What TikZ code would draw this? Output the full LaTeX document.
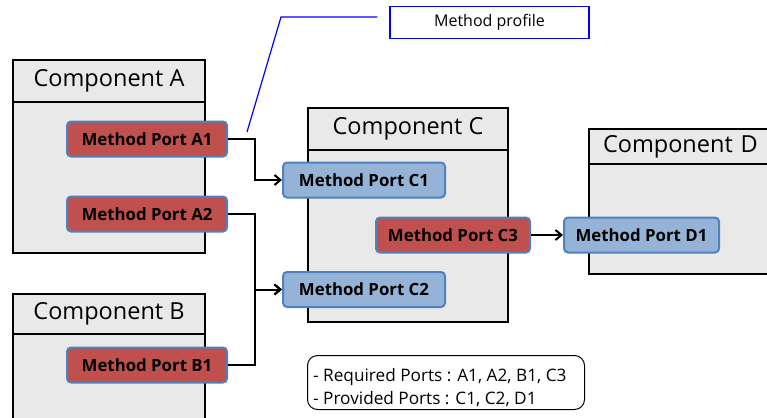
\documentclass[tikz,border=0pt]{standalone}
\usepackage{fontspec}
\setmainfont{Open Sans}
\usetikzlibrary{arrows.meta}

\definecolor{reqfill}{HTML}{C0504D}
\definecolor{provfill}{HTML}{95B3D7}
\definecolor{portedge}{HTML}{4F81BD}
\definecolor{compfill}{HTML}{E9E9E9}
\definecolor{leader}{HTML}{0000FF}

\tikzset{
  compbody/.style={draw=black, line width=2pt, fill=compfill, anchor=north west, inner sep=0pt},
  comphead/.style={draw=black, line width=2pt, fill=compfill, anchor=north west, inner sep=0pt,
    font=\fontsize{23.5}{26}\selectfont},
  port/.style={draw=portedge, line width=2pt, rounded corners=4pt, inner sep=0pt,
    minimum width=160pt, minimum height=35pt, font=\fontsize{16.8}{18}\selectfont\bfseries},
  reqport/.style={port, fill=reqfill},
  provport/.style={port, fill=provfill},
  conn/.style={draw=black, line width=2pt, -{Straight Barb[length=6pt, width=10pt, line width=2pt]}},
  profile/.style={draw=leader, line width=1.2pt, inner sep=0pt, minimum width=199pt, minimum height=32pt,
    font=\fontsize{16}{18}\selectfont},
  note/.style={draw=black, line width=1pt, rounded corners=10pt, inner sep=0pt, anchor=north west,
    minimum width=277pt, minimum height=54pt},
  notetext/.style={anchor=west, inner sep=0pt, align=left, font=\fontsize{17.2}{23}\selectfont}
}

\begin{document}
\begin{tikzpicture}[x=1pt, y=-1pt]
\useasboundingbox (0,0) rectangle (767,417);
\clip (0,0) rectangle (767,417);

% components: body with a title strip on top
\node[compbody, minimum width=192pt, minimum height=193pt] (A) at (12,59) {};
\node[comphead, minimum width=192pt, minimum height=42pt] (Ahead) at (12,59) {Component A};

\node[compbody, minimum width=192pt, minimum height=140pt] (B) at (12,293) {};
\node[comphead, minimum width=192pt, minimum height=40pt] (Bhead) at (12,293) {Component B};

\node[compbody, minimum width=200pt, minimum height=214pt] (C) at (307,107) {};
\node[comphead, minimum width=200pt, minimum height=42pt] (Chead) at (307,107) {Component C};

\node[compbody, minimum width=200pt, minimum height=145pt] (D) at (588,128) {};
\node[comphead, minimum width=200pt, minimum height=35pt, text width=190pt, align=left] (Dhead) at (588,128) {\hspace*{9pt}Component D};

% method ports
\node[reqport] (A1) at (147,139) {Method Port A1};
\node[reqport] (A2) at (147,214) {Method Port A2};
\node[reqport] (B1) at (147,365) {Method Port B1};
\node[provport, minimum width=162pt] (C1) at (364,180) {Method Port C1};
\node[provport, minimum width=162pt] (C2) at (364,289.5) {Method Port C2};
\node[reqport, minimum width=154pt] (C3) at (453,235) {Method Port C3};
\node[provport, minimum width=155pt] (D1) at (641.5,235) {Method Port D1};

% bindings from required to provided ports
\coordinate (J) at (255,0);
\draw[conn] (A1.east) -- (A1.east -| J) |- (C1.west);
\draw[conn] (A2.east) -- (A2.east -| J) |- (C2.west);
\draw[conn] (B1.east) -- (B1.east -| J) |- (C2.west);
\draw[conn] (C3.east) -- (D1.west);

% callout naming the method profile
\node[profile] (MP) at (489.5,22.5) {Method profile};
\coordinate (tip) at (247,132);
\coordinate (bend) at (281,17);
\draw[leader, line width=1.2pt] (tip) -- (bend) -- ([xshift=-12pt]MP.west |- bend);

% legend
\node[note] (L) at (307,355) {};
\node[notetext] (Ltext) at ([xshift=6pt, yshift=-5.5pt]L.west) {- Required Ports : A1, A2, B1, C3\\- Provided Ports : C1, C2, D1};
\end{tikzpicture}
\end{document}
